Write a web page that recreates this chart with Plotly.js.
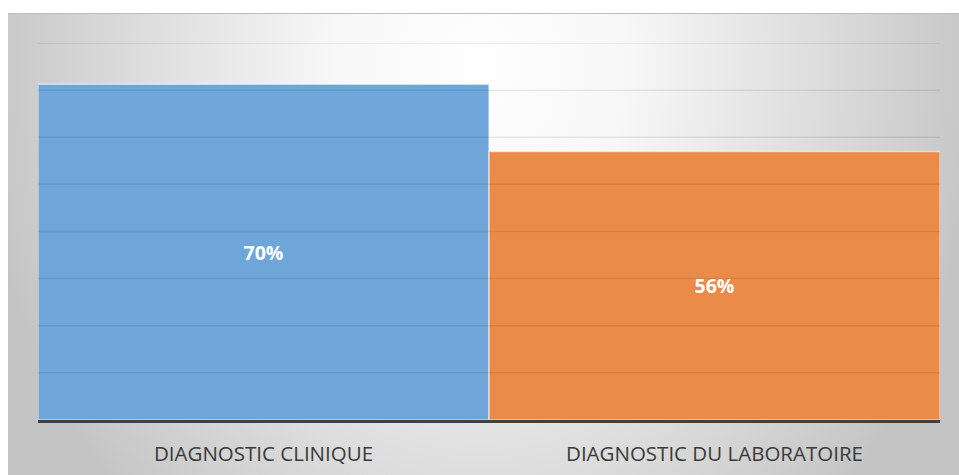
<!DOCTYPE html>
<html>
<head>
<meta charset="utf-8">
<script src="https://cdn.plot.ly/plotly-3.0.1.min.js"></script>
<style>
  html, body { margin: 0; padding: 0; background: #ffffff; }
  #frame { position: relative; width: 959px; height: 475px; overflow: hidden; background: #ffffff; }
  #panel {
    position: absolute; left: 8px; top: 13px; right: 0; bottom: 0;
    border-top: 1px solid #bdbdbd;
    background: radial-gradient(500px 620px at 472px 50px,
      #fefefe 0%, #f7f7f7 30%, #dedede 66%, #c9c9c9 95%, #c4c4c4 100%);
  }
  #chart { position: absolute; left: 0; top: 0; width: 959px; height: 475px; }
</style>
</head>
<body>
<div id="frame">
  <div id="panel"></div>
  <div id="chart"></div>
</div>
<script>
// Share of correct diagnoses, by method (percent)
const categories = ['DIAGNOSTIC CLINIQUE', 'DIAGNOSTIC DU LABORATOIRE'];
const values = [70, 56];
const barColors = ['#6ea6da', '#eb8b4a'];

// Value axis: eight equal gridline bands, no tick labels
const axisMax = 78.6;
const gridBands = 8;
const gridStep = axisMax / gridBands;

// Gridlines are drawn as shapes so they stay visible across the bars
const gridShapes = [];
for (let i = 1; i <= gridBands; i++) {
  gridShapes.push({
    type: 'line', xref: 'paper', yref: 'y',
    x0: 0, x1: 1, y0: i * gridStep, y1: i * gridStep,
    line: { color: 'rgba(0,0,0,0.08)', width: 1.5 },
    layer: 'above'
  });
}

const trace = {
  type: 'bar',
  x: categories,
  y: values,
  marker: {
    color: barColors,
    line: { color: 'rgba(255,255,255,0.55)', width: 1.5 }
  },
  texttemplate: '%{y}%',
  textposition: 'inside',
  insidetextanchor: 'middle',
  textangle: 0,
  constraintext: 'none',
  textfont: { family: 'Open Sans, sans-serif', size: 19.5, color: '#ffffff', weight: 'bold' },
  hoverinfo: 'skip'
};

const layout = {
  width: 959,
  height: 475,
  margin: { l: 38, r: 19, t: 43, b: 55 },
  paper_bgcolor: 'rgba(0,0,0,0)',
  plot_bgcolor: 'rgba(0,0,0,0)',
  bargap: 0,
  showlegend: false,
  xaxis: {
    type: 'category',
    showline: true,
    linecolor: '#404040',
    linewidth: 3,
    ticks: '',
    showgrid: false,
    zeroline: false,
    tickfont: { family: 'Open Sans, sans-serif', size: 20.5, color: '#3a3a3a' },
    ticklabelstandoff: 13,
    fixedrange: true
  },
  yaxis: {
    range: [0, axisMax],
    showgrid: false,
    zeroline: false,
    showticklabels: false,
    ticks: '',
    fixedrange: true
  },
  shapes: gridShapes
};

Plotly.newPlot('chart', [trace], layout, { displayModeBar: false, staticPlot: true });
</script>
</body>
</html>
